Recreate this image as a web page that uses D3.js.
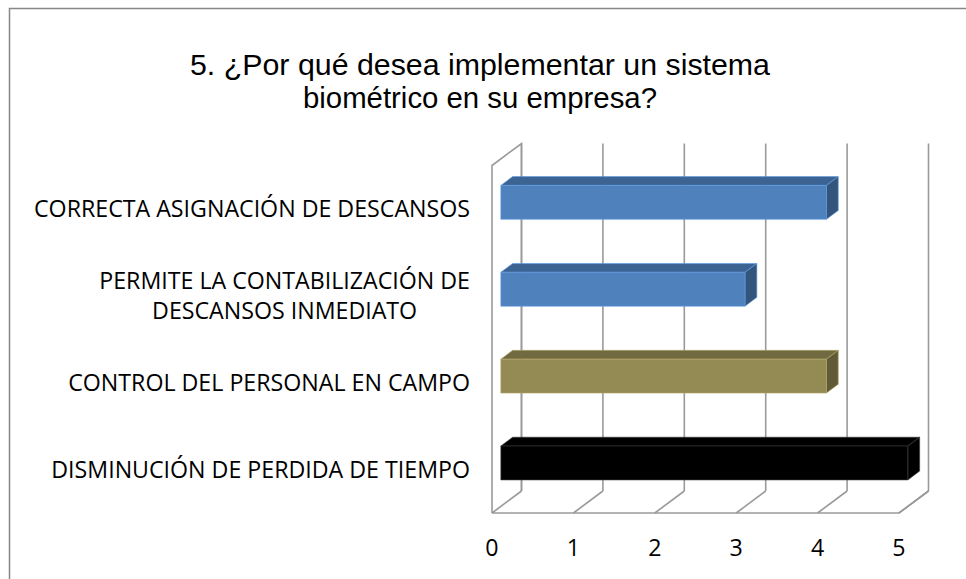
<!DOCTYPE html>
<html>
<head>
<meta charset="utf-8">
<script src="https://cdn.jsdelivr.net/npm/d3@7"></script>
<style>
  body { margin: 0; background: #fff; }
  svg { display: block; }
</style>
</head>
<body>
<div id="chart"></div>
<script>
// categories top to bottom, as they appear on the axis
const categories = [
  "CORRECTA ASIGNACIÓN DE DESCANSOS",
  "PERMITE LA CONTABILIZACIÓN DE DESCANSOS INMEDIATO",
  "CONTROL DEL PERSONAL EN CAMPO",
  "DISMINUCIÓN DE PERDIDA DE TIEMPO"
];
const values = [4, 3, 4, 5];
const barColors = ["#4F81BD", "#4F81BD", "#948A54", "#000000"];
const xTicks = [0, 1, 2, 3, 4, 5];
const titleLines = ["5. ¿Por qué desea implementar un sistema", "biométrico en su empresa?"];

const width = 966, height = 579;
const front = { left: 492, right: 899, top: 165.5, bottom: 513 };
const depth = { dx: 29.5, dy: -22 };   // offset from front plane to back wall
const barDepth = [0.3, 0.7];           // bar sits between these depth fractions

const svg = d3.select("#chart").append("svg")
  .attr("width", width)
  .attr("height", height);

// chart area border (runs off the right and bottom edge)
svg.append("rect")
  .attr("x", 9.5).attr("y", 8.5)
  .attr("width", width).attr("height", height)
  .attr("fill", "#fff")
  .attr("stroke", "#868686")
  .attr("stroke-width", 1.5);

// title, a narrow sans look
const titleWidths = [580, 354];
svg.append("text")
  .attr("text-anchor", "middle")
  .attr("font-family", "Liberation Sans, Arial, sans-serif")
  .attr("font-size", 30)
  .attr("fill", "#000")
  .selectAll("tspan")
  .data(titleLines)
  .join("tspan")
  .attr("x", 480)
  .attr("y", (d, i) => 75 + i * 33)
  .attr("textLength", (d, i) => titleWidths[i])
  .attr("lengthAdjust", "spacingAndGlyphs")
  .text(d => d);

const x = d3.scaleLinear().domain([0, 5]).range([front.left, front.right]);
const y = d3.scaleBand()
  .domain(categories)
  .range([front.top, front.bottom])
  .paddingInner(0.61)
  .paddingOuter(0.305);

const gridColor = "#9a9a9a";
const grid = svg.append("g")
  .attr("fill", "none")
  .attr("stroke", gridColor)
  .attr("stroke-width", 1.6);

// left wall outline
grid.append("path")
  .attr("d", d3.line()([
    [front.left, front.bottom],
    [front.left, front.top],
    [front.left + depth.dx, front.top + depth.dy],
    [front.left + depth.dx, front.bottom + depth.dy]
  ]));

// floor outline
grid.append("path")
  .attr("d", d3.line()([
    [front.left, front.bottom],
    [front.right, front.bottom],
    [front.right + depth.dx, front.bottom + depth.dy]
  ]));

// back wall gridlines and floor diagonals
grid.selectAll(".vgrid")
  .data(xTicks)
  .join("line")
  .attr("class", "vgrid")
  .attr("x1", d => x(d) + depth.dx)
  .attr("x2", d => x(d) + depth.dx)
  .attr("y1", front.top + depth.dy)
  .attr("y2", front.bottom + depth.dy);

grid.selectAll(".fgrid")
  .data(xTicks)
  .join("line")
  .attr("class", "fgrid")
  .attr("x1", d => x(d))
  .attr("y1", front.bottom)
  .attr("x2", d => x(d) + depth.dx)
  .attr("y2", front.bottom + depth.dy);

// 3D bars
const bars = svg.append("g")
  .selectAll("g")
  .data(categories.map((c, i) => ({ cat: c, value: values[i], color: barColors[i] })))
  .join("g");

const ox0 = depth.dx * barDepth[0], oy0 = depth.dy * barDepth[0];
const ox1 = depth.dx * barDepth[1], oy1 = depth.dy * barDepth[1];

function face(d, kind) {
  const x0 = x(0) + ox0, x1 = x(d.value) + ox0;
  const y0 = y(d.cat) + oy0, y1 = y(d.cat) + y.bandwidth() + oy0;
  const ddx = ox1 - ox0, ddy = oy1 - oy0;
  if (kind === "front") return [[x0, y0], [x1, y0], [x1, y1], [x0, y1]];
  if (kind === "top") return [[x0, y0], [x0 + ddx, y0 + ddy], [x1 + ddx, y0 + ddy], [x1, y0]];
  return [[x1, y0], [x1 + ddx, y0 + ddy], [x1 + ddx, y1 + ddy], [x1, y1]];
}

const shade = { front: 0, top: 0.75, side: 1.2 };
["top", "side", "front"].forEach(kind => {
  bars.append("path")
    .attr("d", d => d3.line()(face(d, kind)) + "Z")
    .attr("fill", d => kind === "front" ? d.color : d3.color(d.color).darker(shade[kind]))
    .attr("stroke", d => d.color === "#000000" ? "#3a3a3a" : d3.color(d.color).brighter(0.5))
    .attr("stroke-opacity", 0.8)
    .attr("stroke-width", 0.8)
    .attr("stroke-linejoin", "round");
});

// category labels, wrapped and centred as a block, right aligned to the axis
const labelFont = "Open Sans, Calibri, sans-serif";
const labelSize = 23.2;
const labelMax = 465;
const labels = svg.append("g")
  .attr("font-family", labelFont)
  .attr("font-size", labelSize)
  .attr("fill", "#000");

const measurer = svg.append("text")
  .attr("font-family", labelFont)
  .attr("font-size", labelSize)
  .attr("visibility", "hidden");
function textWidth(s) {
  measurer.text(s);
  return measurer.node().getComputedTextLength();
}
function wrap(s) {
  const words = s.split(" ");
  const lines = [];
  let cur = "";
  words.forEach(w => {
    const test = cur ? cur + " " + w : w;
    if (textWidth(test) > labelMax && cur) { lines.push(cur); cur = w; }
    else cur = test;
  });
  lines.push(cur);
  return lines;
}

const axisRight = 470;
const lineH = 30;
categories.forEach(c => {
  const lines = wrap(c);
  const blockW = d3.max(lines, textWidth);
  const cx = axisRight - blockW / 2;
  const cy = y(c) + y.bandwidth() / 2;
  const t = labels.append("text").attr("text-anchor", "middle");
  lines.forEach((ln, i) => {
    t.append("tspan")
      .attr("x", cx)
      .attr("y", cy + (i - (lines.length - 1) / 2) * lineH)
      .attr("dy", "0.36em")
      .text(ln);
  });
});
measurer.remove();

// value axis labels
svg.append("g")
  .attr("font-family", labelFont)
  .attr("font-size", labelSize)
  .attr("text-anchor", "middle")
  .selectAll("text")
  .data(xTicks)
  .join("text")
  .attr("x", d => x(d))
  .attr("y", 555.5)
  .text(d => d);
</script>
</body>
</html>
